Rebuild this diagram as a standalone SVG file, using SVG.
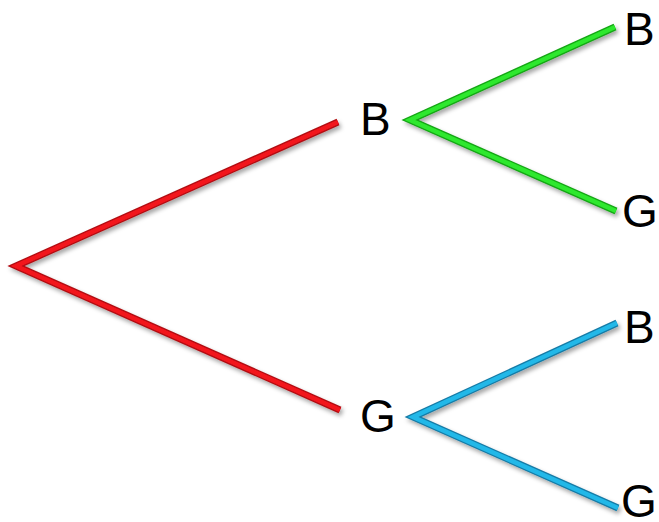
<svg xmlns="http://www.w3.org/2000/svg" width="659" height="522" viewBox="0 0 659 522">
<defs>
<filter id="sh" x="-10%" y="-10%" width="120%" height="130%">
<feDropShadow dx="2" dy="3" stdDeviation="2" flood-color="#000" flood-opacity="0.35"/>
</filter>
<style>
.lbl{font-family:"Liberation Sans",Arial,sans-serif;font-size:46px;fill:#000}
.b{fill:none;stroke-linejoin:miter;stroke-linecap:butt;stroke-miterlimit:20}
.o{stroke-width:7}
.i{stroke-width:4.5}
.red .o{stroke:#b00d12}.red .i{stroke:#f2141c}
.grn .o{stroke:#13a513}.grn .i{stroke:#2ee82e}
.blu .o{stroke:#157ba6}.blu .i{stroke:#22b8e8}
</style>
</defs>
<rect width="659" height="522" fill="#fff"/>
<g id="connectors">
<g class="red" filter="url(#sh)">
<path class="b o" d="M338,122 L16,266 L340,410"/>
<path class="b i" d="M338,122 L16,266 L340,410"/>
</g>
<g class="grn" filter="url(#sh)">
<path class="b o" d="M615,27 L410,120 L616,211"/>
<path class="b i" d="M615,27 L410,120 L616,211"/>
</g>
<g class="blu" filter="url(#sh)">
<path class="b o" d="M617,323 L413,417 L618,508"/>
<path class="b i" d="M617,323 L413,417 L618,508"/>
</g>
</g>
<g id="node-B1"><text class="lbl" x="360" y="135">B</text></g>
<g id="node-G1"><text class="lbl" x="360" y="432">G</text></g>
<g id="node-BB"><text class="lbl" x="624" y="45">B</text></g>
<g id="node-BG"><text class="lbl" x="622" y="227">G</text></g>
<g id="node-GB"><text class="lbl" x="624" y="343">B</text></g>
<g id="node-GG"><text class="lbl" x="621" y="517" font-size="45">G</text></g>
</svg>
